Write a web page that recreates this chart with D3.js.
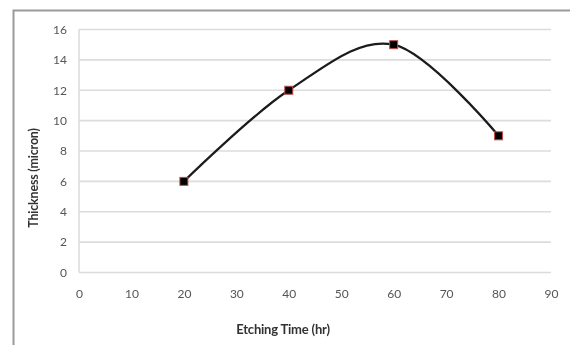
<!DOCTYPE html>
<html>
<head>
<meta charset="utf-8">
<script src="https://cdn.jsdelivr.net/npm/d3@7"></script>
<style>
  html, body { margin: 0; padding: 0; background: #fff; }
  svg { display: block; }
  text { font-family: Lato, "Open Sans", sans-serif; }
</style>
</head>
<body>
<svg id="chart" width="570" height="345"></svg>
<script>
// Etching time (hr) and resulting film thickness (micron)
const etchingTime = [20, 40, 60, 80];
const thickness = [6, 12, 15, 9];
const xTicks = [0, 10, 20, 30, 40, 50, 60, 70, 80, 90];
const yTicks = [0, 2, 4, 6, 8, 10, 12, 14, 16];

const svg = d3.select("#chart");
const W = 570, H = 345;
const plot = { left: 79, right: 551, top: 29.5, bottom: 272.5 };

svg.append("defs").append("filter").attr("id", "soft")
  .append("feGaussianBlur").attr("stdDeviation", 0.45);

const root = svg.append("g").attr("filter", "url(#soft)");

// chart frame (top and left edges)
root.append("path")
  .attr("d", `M13.5,${H} V10.5 H${W}`)
  .attr("fill", "none").attr("stroke", "#9a9a9a").attr("stroke-width", 2);

const x = d3.scaleLinear().domain([0, 90]).range([plot.left, plot.right]);
const y = d3.scaleLinear().domain([0, 16]).range([plot.bottom, plot.top]);

// horizontal gridlines
root.append("g").selectAll("line").data(yTicks).join("line")
  .attr("x1", plot.left).attr("x2", plot.right)
  .attr("y1", d => y(d)).attr("y2", d => y(d))
  .attr("stroke", "#dcdcdc").attr("stroke-width", 1.6);

// vertical axis line
root.append("line")
  .attr("x1", plot.left).attr("x2", plot.left)
  .attr("y1", plot.top).attr("y2", plot.bottom)
  .attr("stroke", "#dcdcdc").attr("stroke-width", 1.6);

// y axis labels
const yAxis = d3.axisLeft(y).tickValues(yTicks).tickSize(0).tickPadding(12);
const gy = root.append("g").attr("transform", `translate(${plot.left},0)`).call(yAxis);
gy.select(".domain").remove();
gy.selectAll("text").attr("fill", "#555").style("font-size", "12px")
  .style("font-family", "Lato, 'Open Sans', sans-serif");

// x axis labels
const xAxis = d3.axisBottom(x).tickValues(xTicks).tickSize(0).tickPadding(17);
const gx = root.append("g").attr("transform", `translate(0,${plot.bottom})`).call(xAxis);
gx.select(".domain").remove();
gx.selectAll("text").attr("fill", "#555").style("font-size", "12px")
  .style("font-family", "Lato, 'Open Sans', sans-serif");

// axis titles
root.append("text")
  .attr("x", 283).attr("y", 334)
  .attr("text-anchor", "middle")
  .attr("fill", "#333").style("font-size", "13px").style("font-weight", "bold")
  .style("letter-spacing", "-0.2px")
  .text("Etching Time (hr)");

root.append("text")
  .attr("transform", "translate(38,178) rotate(-90)")
  .attr("text-anchor", "middle")
  .attr("fill", "#333").style("font-size", "12.5px").style("font-weight", "bold")
  .style("letter-spacing", "-0.2px")
  .text("Thickness (micron)");

// smoothed data line
const pts = etchingTime.map((t, i) => [t, thickness[i]]);
const line = d3.line()
  .x(d => x(d[0])).y(d => y(d[1]))
  .curve(d3.curveCardinal.tension(0));
root.append("path")
  .datum(pts)
  .attr("d", line)
  .attr("fill", "none").attr("stroke", "#1a1a1a").attr("stroke-width", 2.2);

// square markers
const ms = 8;
root.append("g").selectAll("rect").data(pts).join("rect")
  .attr("x", d => x(d[0]) - ms / 2).attr("y", d => y(d[1]) - ms / 2)
  .attr("width", ms).attr("height", ms)
  .attr("fill", "#000").attr("stroke", "#c0504d").attr("stroke-width", 1);
</script>
</body>
</html>
